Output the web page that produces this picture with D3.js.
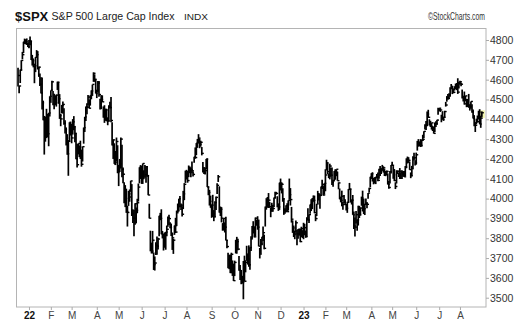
<!DOCTYPE html>
<html><head><meta charset="utf-8">
<script src="https://cdn.jsdelivr.net/npm/d3@7"></script>
<style>
html,body{margin:0;padding:0;background:#fff;}
svg{display:block;font-family:"Liberation Sans",Arial,sans-serif;}
</style></head>
<body><svg id="c" width="525" height="327"></svg>
<script>
// Daily S&P 500 bars, 17 Dec 2021 .. 28 Aug 2023 (trading-day index)
const highs = [
 4660,4569,4651,4698,4740,4791,4807,4804,4808,4787,
 4800,4818,4797,4725,4707,4673,4714,4749,4744,4666,4631,4612,4611,4494,4417,4411,4453,4428,4432,4516,
 4546,4595,4543,4529,4521,4525,4590,4589,4527,4427,4472,4490,4456,4395,4359,4325,4295,4385,4382,
 4375,4401,4416,4362,4327,4276,4277,4268,4292,4247,4263,4358,4412,4465,4481,4522,4500,4521,4546,4575,4637,4627,4603,
 4549,4593,4593,4504,4522,4521,4465,4471,4454,4453,4410,4471,4489,4512,4385,4299,4279,4240,4308,4269,
 4170,4200,4308,4271,4157,4082,4068,4050,3964,4039,4046,4090,4073,3946,3943,3976,3955,3999,4076,4158,4169,
 4166,4177,4143,4169,4165,4164,4119,3974,3838,3778,3837,3728,3708,3780,3809,3802,3913,3928,3946,3837,3818,
 3829,3832,3864,3910,3919,3880,3874,3829,3797,3864,3903,3939,3975,3999,4013,3975,3961,4039,4078,4141,
 4145,4140,4167,4162,4151,4187,4137,4211,4258,4280,4301,4325,4302,4292,4260,4185,4159,4157,4200,4203,4062,4044,4015,
 3971,4019,3942,3987,4010,4077,4119,4062,3960,3957,3876,3901,3880,3908,3791,3727,3716,3718,3727,3688,3672,
 3687,3791,3807,3797,3710,3665,3640,3610,3685,3712,3689,3762,3720,3764,3755,3810,3862,3886,3860,3905,3893,
 3911,3894,3751,3796,3807,3859,3818,3960,4002,4008,4028,3983,3955,3979,3962,4005,4034,4034,4012,3976,4080,
 4101,4080,4052,4001,3951,3966,3977,3991,4101,4053,3958,3890,3864,3838,3889,3841,3846,3846,3849,3858,3840,
 3878,3873,3839,3906,3951,3920,3970,3997,4003,4016,4015,3922,3973,4039,4028,4019,4061,4095,4063,4077,
 4148,4196,4183,4127,4176,4156,4157,4095,4139,4148,4148,4136,4082,4051,4010,4040,3983,4018,3997,
 3972,3984,4048,4079,4050,3996,4018,3935,3905,3937,3894,3964,3958,3956,4010,4040,4000,3974,4000,3980,4028,4055,4110,
 4128,4133,4100,4108,4110,4124,4132,4150,4164,4152,4170,4163,4149,4139,4142,4127,4089,4139,4170,
 4186,4164,4149,4082,4143,4142,4131,4154,4133,4143,4139,4135,4164,4203,4212,4209,4187,4132,4165,4213,4231,4193,
 4232,4291,4300,4288,4300,4298,4322,4340,4375,4391,4439,4448,4400,4387,4383,4366,4363,4384,4390,4398,4458,
 4456,4454,4423,4441,4412,4443,4488,4517,4528,4532,4562,4578,4565,4556,4567,4580,4583,4607,4590,4594,
 4584,4550,4519,4540,4519,4503,4502,4528,4476,4490,4476,4450,4421,4386,4402,4419,4443,4451,4418,4440
];
const lows = [
 4565,4531,4583,4645,4703,4734,4780,4778,4775,4765,
 4758,4774,4699,4671,4662,4582,4638,4711,4651,4614,4568,4530,4450,4395,4222,4287,4305,4309,4264,4414,
 4483,4544,4471,4451,4471,4464,4548,4478,4402,4365,4430,4429,4373,4328,4268,4221,4115,4287,4318,
 4279,4323,4345,4284,4199,4157,4223,4209,4200,4161,4187,4277,4336,4392,4425,4469,4455,4469,4501,4518,4589,4589,4530,
 4507,4535,4514,4450,4451,4487,4408,4382,4393,4390,4370,4388,4455,4385,4268,4200,4175,4169,4189,4128,
 4063,4134,4153,4107,4077,3976,3957,3928,3859,3963,3984,4034,3912,3877,3810,3868,3875,3926,3985,4077,4099,
 4074,4074,4098,4110,4080,4110,4017,3900,3734,3723,3723,3640,3637,3715,3717,3743,3810,3891,3820,3799,3738,
 3752,3742,3810,3858,3867,3850,3811,3741,3721,3817,3826,3861,3925,3935,3956,3943,3910,3947,3992,4079,
 4096,4080,4108,4128,4107,4128,4112,4181,4201,4219,4256,4278,4254,4262,4218,4132,4124,4121,4148,4058,4017,3965,3954,
 3903,3907,3886,3906,3942,4023,4084,3929,3912,3880,3838,3839,3829,3789,3749,3648,3644,3624,3623,3610,3584,
 3609,3723,3722,3739,3636,3589,3568,3571,3492,3581,3628,3686,3667,3656,3641,3735,3800,3824,3804,3809,3863,
 3843,3759,3698,3722,3764,3786,3744,3859,3944,3956,3953,3954,3906,3933,3933,3957,4001,4020,3956,3938,3943,
 4041,4026,3984,3918,3923,3936,3933,3939,3994,3965,3879,3827,3806,3795,3828,3765,3798,3813,3780,3806,3801,
 3795,3815,3802,3809,3890,3877,3924,3937,3947,3984,3926,3886,3912,3974,3990,3949,4013,4048,4015,4020,
 4037,4142,4123,4103,4097,4111,4069,4060,4092,4095,4113,4090,4047,3997,3981,3961,3944,3976,3968,
 3940,3928,3982,4044,3980,3970,3918,3847,3809,3874,3838,3864,3902,3917,3964,3936,3922,3917,3970,3951,3999,4033,4057,
 4099,4086,4072,4076,4073,4103,4087,4100,4114,4124,4140,4131,4114,4113,4117,4071,4049,4076,4127,
 4164,4100,4088,4048,4076,4124,4109,4099,4099,4099,4110,4109,4114,4153,4177,4180,4145,4103,4113,4154,4192,4167,
 4171,4242,4262,4264,4260,4262,4292,4305,4349,4346,4365,4407,4368,4361,4348,4341,4328,4336,4361,4372,4423,
 4442,4437,4385,4398,4392,4408,4464,4489,4499,4504,4514,4557,4527,4532,4545,4553,4547,4528,4555,4574,
 4567,4505,4490,4474,4491,4461,4462,4458,4444,4453,4433,4404,4365,4336,4375,4383,4401,4375,4357,4412
];
const closes = [
 4621,4568,4649,4697,4726,4791,4786,4793,4779,4766,
 4797,4794,4701,4696,4677,4670,4713,4726,4659,4663,4577,4533,4483,4398,4410,4356,4350,4327,4432,4516,
 4547,4589,4477,4501,4484,4522,4587,4504,4419,4402,4471,4475,4380,4349,4305,4226,4289,4385,4374,
 4306,4387,4363,4329,4201,4171,4278,4260,4204,4173,4262,4358,4412,4463,4461,4512,4456,4520,4543,4576,4632,4602,4530,
 4546,4583,4525,4481,4500,4488,4413,4397,4447,4393,4392,4462,4459,4394,4272,4296,4175,4184,4288,4132,
 4155,4175,4300,4147,4123,3991,4001,3935,3930,4024,4008,4089,3924,3901,3901,3974,3941,3979,4058,4158,4132,
 4101,4177,4109,4121,4161,4116,4018,3901,3750,3735,3790,3667,3675,3765,3760,3796,3912,3900,3822,3819,3785,
 3825,3831,3845,3903,3899,3854,3819,3802,3790,3863,3831,3937,3960,3999,3962,3967,3921,4024,4072,4130,
 4119,4091,4155,4152,4145,4140,4122,4210,4207,4280,4297,4305,4274,4284,4228,4138,4129,4141,4199,4058,4031,3986,3955,
 3967,3924,3908,3980,4006,4067,4110,3933,3946,3901,3873,3900,3856,3790,3758,3693,3655,3647,3719,3640,3586,
 3678,3791,3783,3745,3640,3612,3589,3577,3670,3583,3678,3720,3695,3666,3753,3797,3859,3831,3807,3901,3872,
 3856,3760,3720,3771,3807,3828,3749,3956,3993,3957,3992,3959,3947,3965,3950,4004,4027,4026,3964,3958,4080,
 4077,4072,3999,3941,3934,3964,3934,3991,4020,3995,3896,3852,3818,3822,3878,3822,3845,3829,3783,3849,3840,
 3824,3853,3808,3895,3892,3919,3970,3983,3999,3991,3929,3899,3973,4020,4017,4016,4060,4071,4018,4077,
 4119,4180,4136,4111,4164,4118,4082,4090,4137,4136,4148,4090,4079,3997,3991,4012,3970,3982,3970,
 3951,3981,4046,4048,3986,3992,3918,3862,3856,3919,3892,3960,3917,3952,4003,3937,3949,3971,3978,3971,4028,4051,4109,
 4125,4101,4090,4105,4109,4109,4092,4146,4138,4151,4155,4155,4130,4134,4137,4072,4056,4135,4169,
 4168,4120,4091,4061,4136,4138,4119,4138,4131,4124,4136,4110,4159,4198,4192,4193,4146,4115,4151,4205,4206,4180,
 4221,4282,4274,4284,4268,4294,4299,4339,4369,4373,4426,4410,4389,4366,4382,4348,4329,4378,4377,4396,4450,
 4456,4447,4412,4399,4410,4439,4472,4510,4505,4523,4555,4566,4535,4536,4555,4567,4567,4537,4582,4589,
 4577,4513,4502,4478,4518,4499,4468,4469,4464,4490,4438,4404,4370,4370,4400,4388,4436,4376,4406,4433
];
// first trading day of each month (index into the arrays above) and its label
const monthStartIndex = [10,30,49,72,92,113,134,154,177,198,219,240,261,281,300,323,342,364,385,404];
const monthLabels = ["22","F","M","A","M","J","J","A","S","O","N","D","23","F","M","A","M","J","J","A"];
const yTicks = [3500,3600,3700,3800,3900,4000,4100,4200,4300,4400,4500,4600,4700,4800];

const svg = d3.select("#c");
const L = 16.5, R = 486, T = 28.5, B = 307;
const x = d3.scaleLinear().domain([-1.4, 427.8]).range([L, R]);
const y = d3.scaleLinear().domain([3500, 4800]).range([297.7, 40]);

// frame
svg.append("rect").attr("x", L).attr("y", T).attr("width", R - L).attr("height", B - T)
  .attr("fill", "none").attr("stroke", "#b4b4b4").attr("stroke-width", 1);

// title
const tt = svg.append("text").attr("x", 15).attr("y", 20.5).attr("fill", "#111");
tt.append("tspan").attr("font-weight", "bold").attr("font-size", 13).text("$SPX");
svg.append("text").attr("x", 51.5).attr("y", 20).attr("font-size", 10.5).attr("fill", "#222")
  .attr("textLength", 123).attr("lengthAdjust", "spacingAndGlyphs").text("S&P 500 Large Cap Index");
svg.append("text").attr("x", 184).attr("y", 20).attr("font-size", 9).attr("fill", "#222")
  .attr("textLength", 24).attr("lengthAdjust", "spacingAndGlyphs").text("INDX");
svg.append("text").attr("x", 428).attr("y", 20).attr("font-size", 10.5).attr("fill", "#333")
  .attr("textLength", 57).attr("lengthAdjust", "spacingAndGlyphs").text("©StockCharts.com");

// right axis
const yAxis = d3.axisRight(y).tickValues(yTicks).tickSize(3).tickPadding(1).tickFormat(d3.format("d"));
const ga = svg.append("g").attr("transform", `translate(${R},0)`).call(yAxis);
ga.select(".domain").remove();
ga.selectAll("line").attr("stroke", "#aaa");
ga.selectAll("text").attr("font-size", 10.5).attr("fill", "#333").attr("font-family", "Liberation Sans, Arial, sans-serif");

// bottom axis
const xAxis = d3.axisBottom(x).tickValues(monthStartIndex).tickSize(3).tickPadding(2)
  .tickFormat((d, i) => monthLabels[i]);
const gx = svg.append("g").attr("transform", `translate(0,${B})`).call(xAxis);
gx.select(".domain").remove();
gx.selectAll("line").attr("stroke", "#aaa");
gx.selectAll("text").attr("font-size", 10)
  .attr("font-family", "Liberation Sans, Arial, sans-serif")
  .attr("font-weight", (d, i) => (monthLabels[i] === "22" || monthLabels[i] === "23") ? "bold" : "normal")
  .attr("fill", (d, i) => (monthLabels[i] === "22" || monthLabels[i] === "23") ? "#111" : "#444");

// last-bar highlight
const last = closes.length - 1;
svg.append("rect").attr("x", x(last) - 2).attr("y", y(highs[last]) - 1)
  .attr("width", 5).attr("height", y(lows[last]) - y(highs[last]) + 2).attr("fill", "#f4f7b0");

// OHLC-style bars (high-low line + close tick)
const idx = d3.range(closes.length);
const gb = svg.append("g").attr("stroke", "#000");
gb.selectAll("line.hl").data(idx).join("line").attr("class", "hl")
  .attr("x1", i => x(i)).attr("x2", i => x(i))
  .attr("y1", i => y(highs[i])).attr("y2", i => y(lows[i]))
  .attr("stroke-width", 1.7);
gb.selectAll("line.cl").data(idx).join("line").attr("class", "cl")
  .attr("x1", i => x(i)).attr("x2", i => x(i) + 2)
  .attr("y1", i => y(closes[i])).attr("y2", i => y(closes[i]))
  .attr("stroke-width", 1.4);
</script></body></html>
